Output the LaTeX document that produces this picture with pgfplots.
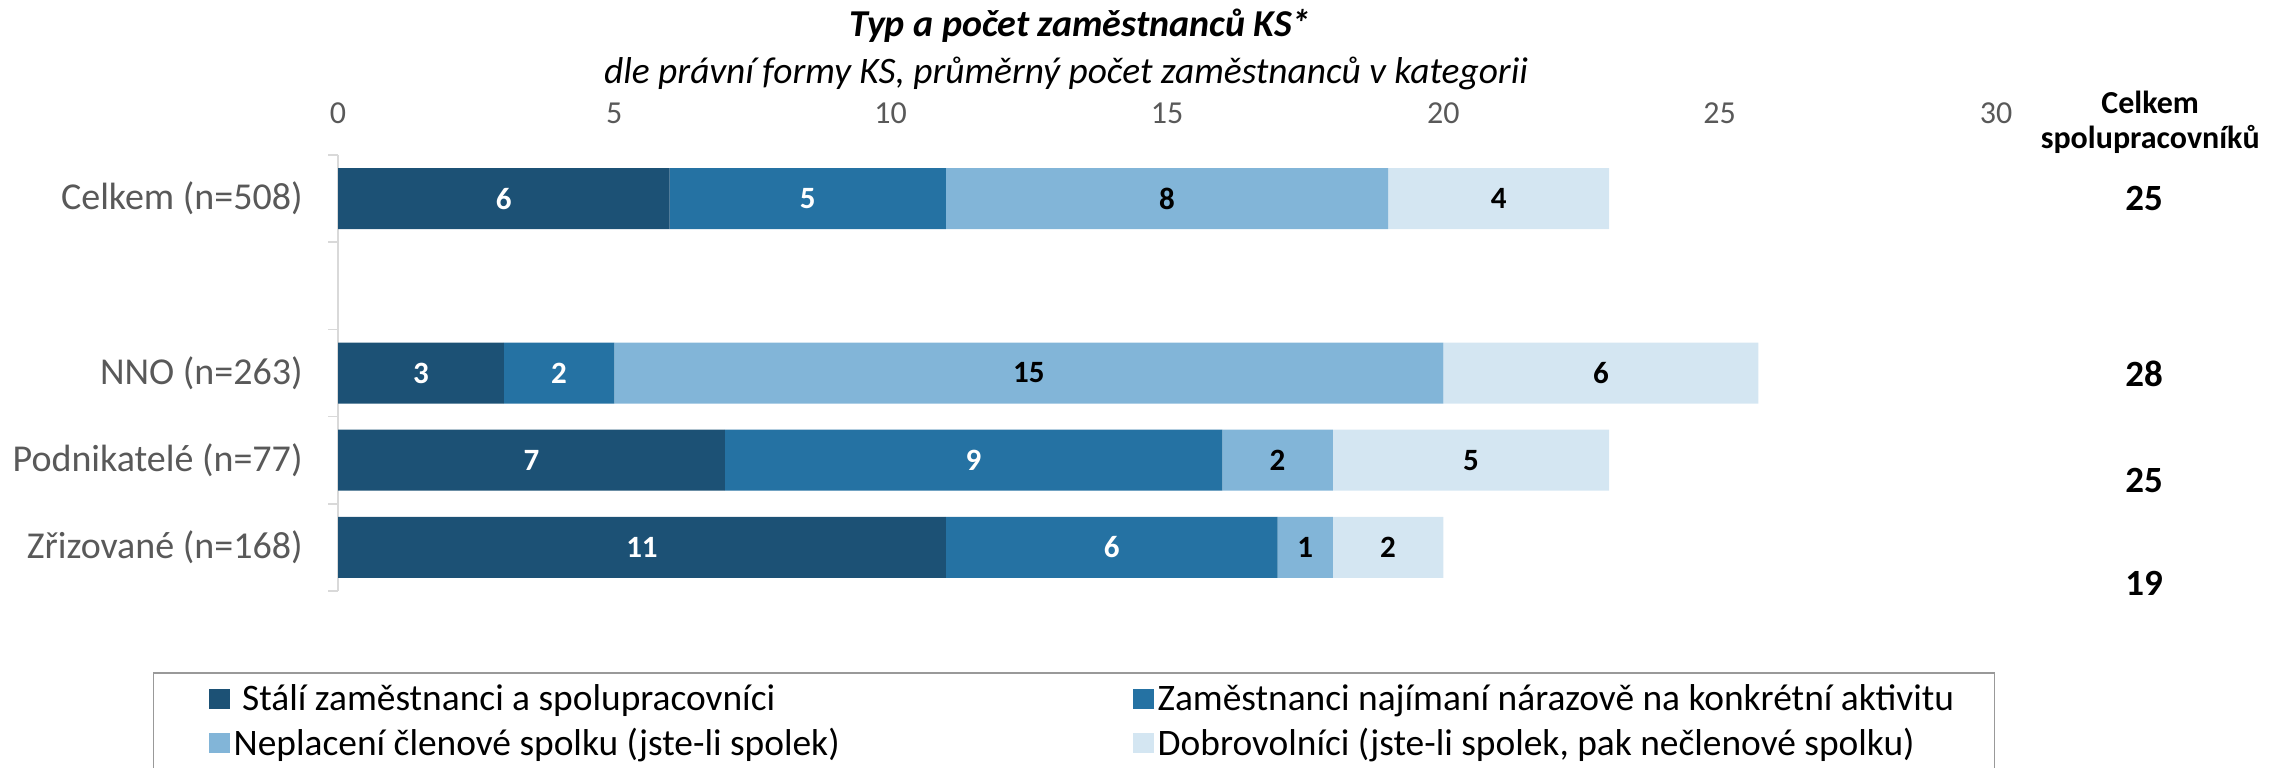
\documentclass[border=0pt]{standalone}
\usepackage{fontspec}
\setmainfont{Carlito}
\usepackage{pgfplots}
\pgfplotsset{compat=1.18}
\usepackage{pgfplotstable}
\definecolor{c1}{RGB}{28,81,117}
\definecolor{c2}{RGB}{37,114,163}
\definecolor{c3}{RGB}{130,181,216}
\definecolor{c4}{RGB}{212,230,242}
\definecolor{tickgray}{RGB}{89,89,89}
\definecolor{axgray}{RGB}{217,217,217}
\pgfplotstableread{
y a la b lb c lc d ld
4 6 6 5 5 8 8 4 4
2 3 3 2 2 15 15 5.7 6
1 7 7 9 9 2 2 5 5
0 11 11 6 6 1 1 2 2
}\datatable
\begin{document}
\begin{tikzpicture}
\path[use as bounding box] (0,0) rectangle (1139pt,-383.5pt);
\begin{axis}[
  at={(169pt,-77.5pt)}, anchor=north west,
  scale only axis, width=829pt, height=218pt,
  xbar stacked, bar width=30.5pt,
  xmin=0, xmax=30, ymin=-0.5, ymax=4.5,
  enlargelimits=false,
  clip=false,
  axis x line*=top, axis y line*=left,
  x axis line style={draw=none},
  y axis line style={-, draw=axgray, line width=0.75pt},
  xtick={0,5,...,30}, xtick style={draw=none},
  ytick={0,1,2,3,4},
  yticklabels={Zřizované (n=168),Podnikatelé (n=77),NNO (n=263),,Celkem (n=508)},
  major tick length=0pt,
  minor ytick={-0.5,0.5,1.5,2.5,3.5,4.5},
  minor tick length=5pt, tick align=outside,
  minor y tick style={draw=axgray, line width=0.75pt},
  /pgf/number format/assume math mode=true,
  xticklabel style={font=\fontsize{16}{18}\selectfont, text=tickgray, anchor=base, yshift=15.8pt},
  yticklabel style={font=\fontsize{19}{22}\selectfont, text=tickgray, anchor=east, inner sep=0pt, xshift=-17.5pt},
  every node near coord/.append style={anchor=center, font=\bfseries\fontsize{15.5}{17}\selectfont},
  legend columns=2,
  legend cell align=left,
  legend style={at={(-0.1116,-0.1858)}, anchor=north west, draw=gray!80, line width=0.75pt,
    inner xsep=27.5pt, inner ysep=5pt, row sep=5pt,
    font=\fontsize{18.7}{21}\selectfont, nodes={inner xsep=2pt, inner ysep=1pt}},
  legend image code/.code={\fill[#1, draw=none] (0pt,-5pt) rectangle (10.5pt,5pt);},
]
\addplot[fill=c1, draw=none, nodes near coords, point meta=explicit symbolic,
  every node near coord/.append style={text=white}] table[x=a,y=y,meta=la]{\datatable};
\addlegendentry{\makebox[447.5pt][l]{\ Stálí zaměstnanci a spolupracovníci}}
\addplot[fill=c2, draw=none, nodes near coords, point meta=explicit symbolic,
  every node near coord/.append style={text=white}] table[x=b,y=y,meta=lb]{\datatable};
\addlegendentry{\makebox[389pt][l]{Zaměstnanci najímaní nárazově na konkrétní aktivitu}}
\addplot[fill=c3, draw=none, nodes near coords, point meta=explicit symbolic,
  every node near coord/.append style={text=black}] table[x=c,y=y,meta=lc]{\datatable};
\addlegendentry{\makebox[447.5pt][l]{Neplacení členové spolku (jste-li spolek)}}
\addplot[fill=c4, draw=none, nodes near coords, point meta=explicit symbolic,
  every node near coord/.append style={text=black}] table[x=d,y=y,meta=ld]{\datatable};
\addlegendentry{\makebox[389pt][l]{Dobrovolníci (jste-li spolek, pak nečlenové spolku)}}
\node[font=\bfseries\fontsize{18.5}{20}\selectfont] at (axis cs:32.68,4.0) {25};
\node[font=\bfseries\fontsize{18.5}{20}\selectfont] at (axis cs:32.68,1.99) {28};
\node[font=\bfseries\fontsize{18.5}{20}\selectfont] at (axis cs:32.68,0.77) {25};
\node[font=\bfseries\fontsize{18.5}{20}\selectfont] at (axis cs:32.68,-0.41) {19};
\node[font=\bfseries\fontsize{16}{17.5}\selectfont, align=center] at (axis cs:32.79,4.873) {Celkem\\spolupracovníků};
\end{axis}
\node[anchor=base, font=\bfseries\itshape\fontsize{19}{22}\selectfont] at (540pt,-18.3pt) {Typ a počet zaměstnanců KS*};
\node[anchor=base, font=\itshape\fontsize{18.7}{21}\selectfont] at (533pt,-41.7pt) {dle právní formy KS, průměrný počet zaměstnanců v kategorii};
\end{tikzpicture}
\end{document}
